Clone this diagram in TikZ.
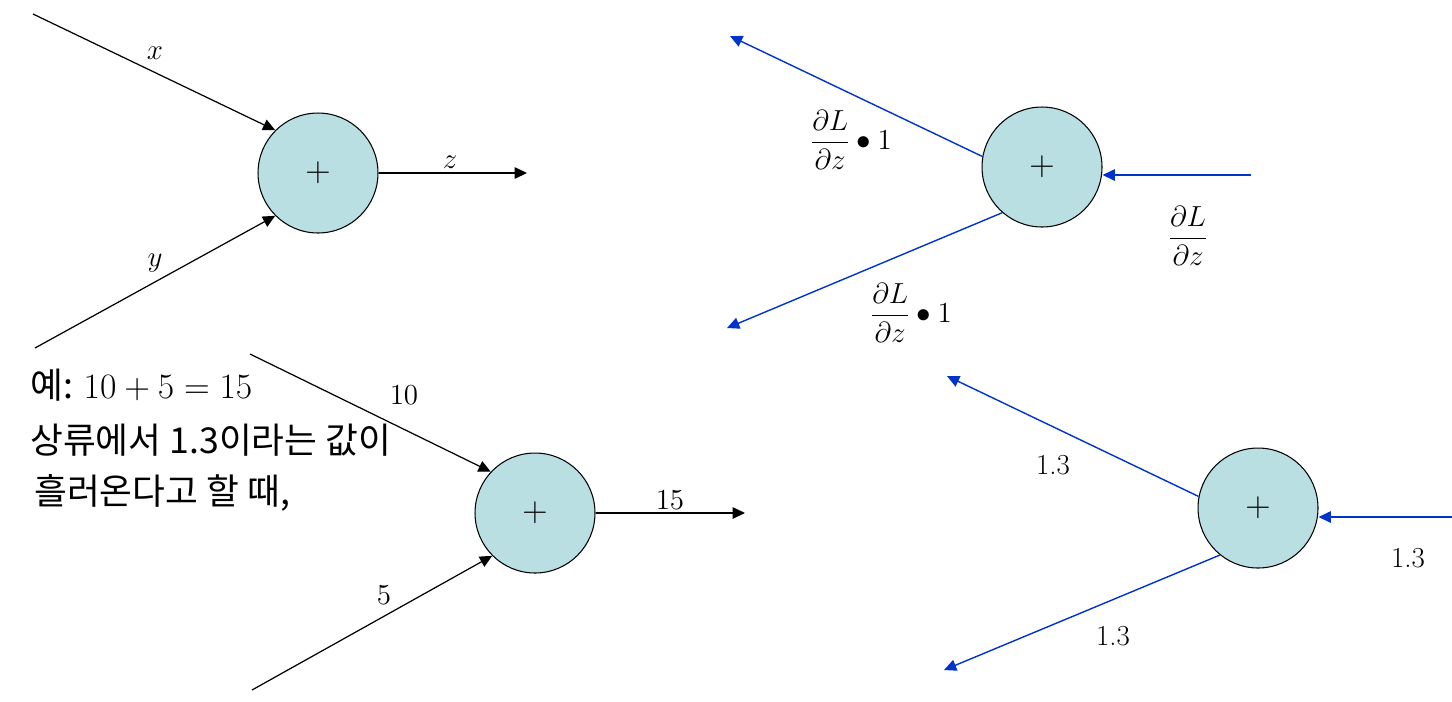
\RequirePackage{fix-cm}
\documentclass[tikz,border=0pt]{standalone}
\usepackage{fontspec}
\usepackage{amsmath}
\newfontfamily\krfont{Noto Sans CJK KR}
\usetikzlibrary{arrows.meta}
\definecolor{nodefill}{RGB}{185,223,226}
\definecolor{bwblue}{RGB}{0,51,204}
\begin{document}
\begin{tikzpicture}[x=0.02cm,y=-0.02cm,
  addnode/.style={circle,draw=black,line width=0.6pt,fill=nodefill,minimum size=2.4cm,inner sep=0pt,font=\fontsize{20}{24}\selectfont},
  fwd/.style={draw=black,line width=0.7pt,-{Triangle[length=7pt,width=6.5pt]}},
  bwd/.style={draw=bwblue,line width=0.8pt,-{Triangle[length=7pt,width=6.5pt]}},
  lbl/.style={font=\fontsize{16.5}{20}\selectfont,inner sep=0pt},
  krtext/.style={font=\fontsize{20.3}{24}\selectfont\krfont,anchor=west,inner sep=0pt}]
\useasboundingbox (0,0) rectangle (1452,701);
% ---------- panel 1: forward
\node[addnode] (c1) at (318,173) {$+$};
\coordinate (x1) at (33,14);
\coordinate (y1) at (35,348);
\coordinate (z1) at (527,173);
\draw[fwd] (x1) -- (c1.135);
\draw[fwd] (y1) -- (c1.225);
\draw[fwd] (c1.east) -- (z1);
\node[lbl] (lx) at (155,53) {$x$};
\node[lbl] (ly) at (155,263) {$y$};
\node[lbl] (lz) at (450,162) {$z$};
% ---------- panel 2: backward
\node[addnode] (c2) at (1042,167) {$+$};
\coordinate (u2) at (730,36);
\coordinate (d2) at (727,328);
\coordinate (r2) at (1251,175);
\draw[bwd] (c2.170) -- (u2);
\draw[bwd] (c2.229) -- (d2);
\draw[bwd] (r2) -- (r2 -| c2.east);
\node[lbl] (lu2) at (851,140) {$\dfrac{\partial L}{\partial z}\bullet 1$};
\node[lbl] (ld2) at (911,313) {$\dfrac{\partial L}{\partial z}\bullet 1$};
\node[lbl] (lr2) at (1188,236) {$\dfrac{\partial L}{\partial z}$};
% ---------- panel 3: forward example
\node[addnode] (c3) at (535,513) {$+$};
\coordinate (a3) at (250,354);
\coordinate (b3) at (252,690);
\coordinate (o3) at (745,513);
\draw[fwd] (a3) -- (c3.137);
\draw[fwd] (b3) -- (c3.225);
\draw[fwd] (c3.east) -- (o3);
\node[lbl] (l10) at (404,395) {$10$};
\node[lbl] (l5) at (384,595) {$5$};
\node[lbl] (l15) at (670,500) {$15$};
\node[krtext] (t1) at (30,385) {예: $10+5=15$};
\node[krtext] (t2) at (30,440) {상류에서 1.3이라는 값이};
\node[krtext] (t3) at (34,493) {흘러온다고 할 때,};
% ---------- panel 4: backward example
\node[addnode] (c4) at (1258,508) {$+$};
\coordinate (u4) at (947,376);
\coordinate (d4) at (944,670);
\coordinate (r4) at (1452,517);
\draw[bwd] (c4.169) -- (u4);
\draw[bwd] (c4.231) -- (d4);
\draw[bwd] (r4) -- (r4 -| c4.east);
\node[lbl] (lu4) at (1053,465) {1.3};
\node[lbl] (ld4) at (1113,636) {1.3};
\node[lbl] (lr4) at (1408,558) {1.3};
\end{tikzpicture}
\end{document}
